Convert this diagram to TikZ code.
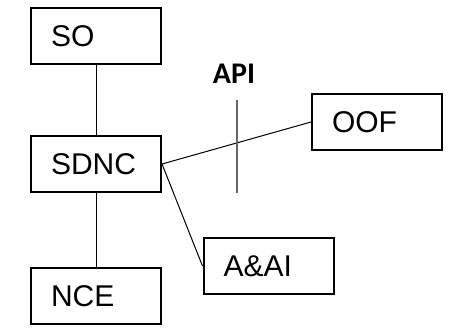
\documentclass[tikz,border=0pt]{standalone}
\usepackage{fontspec}
\setmainfont{Liberation Sans}
\newfontfamily\apifont{Carlito}
\tikzset{
	block/.style={draw, line width=2pt, minimum width=130pt, minimum height=56pt,
		text width=90pt, inner xsep=20pt, align=left, font=\fontsize{30}{32}\selectfont},
	link/.style={line width=1pt}
}
\begin{document}
\begin{tikzpicture}[x=1pt, y=-1pt]
		\useasboundingbox (0,0) rectangle (449,327);
		\node [block] (so) at (96,36) {SO};
		\node [block] (sdnc) at (96,164) {SDNC};
		\node [block] (nce) at (96,296) {NCE};
		\node [block] (oof) at (377,122) {OOF};
		\node [block] (aai) at (268.5,266) {A\&AI};
		\node (api) at (234,74) {\apifont\bfseries\fontsize{30}{32}\selectfont API};
		\coordinate (apitop) at (237,100);
		\coordinate (apibot) at (237,193);
		\draw [link] (so) -- (sdnc);
		\draw [link] (sdnc) -- (nce);
		\draw [link] (sdnc.east) -- (oof.west);
		\draw [link] (sdnc.east) -- (aai.west);
		\draw [line width=1.3pt, gray!80!black] (apitop) -- (apibot);
		\end{tikzpicture}
\end{document}
